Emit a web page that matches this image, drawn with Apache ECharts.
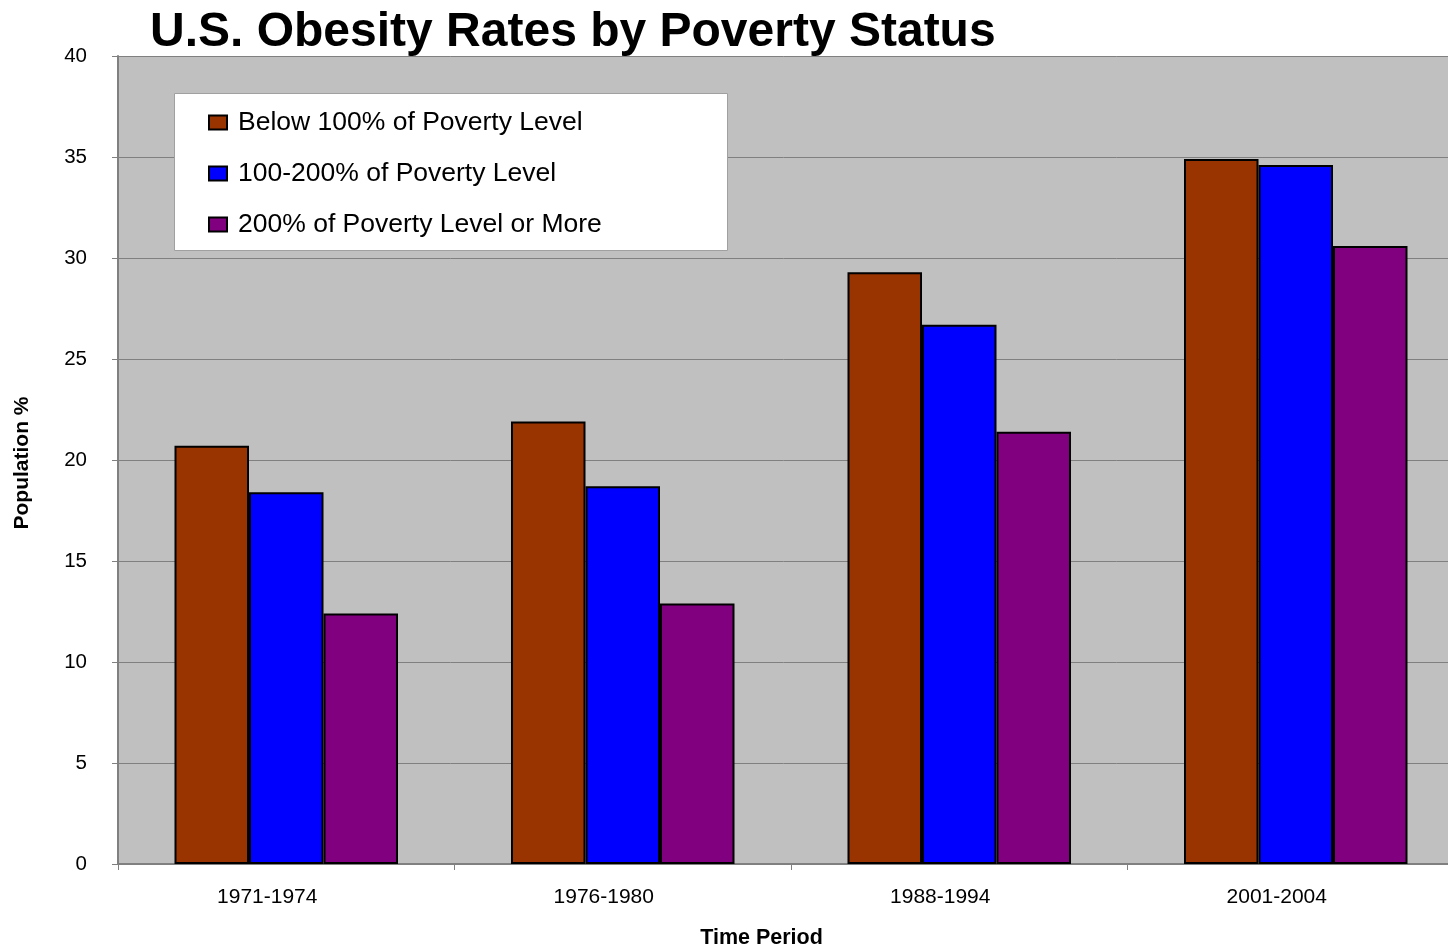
<!DOCTYPE html>
<html>
<head>
<meta charset="utf-8">
<title>U.S. Obesity Rates by Poverty Status</title>
<script src="https://cdn.jsdelivr.net/npm/echarts@6/dist/echarts.min.js"></script>
<style>
  html, body { margin: 0; padding: 0; background: #ffffff; }
  #chart { width: 1448px; height: 950px; }
</style>
</head>
<body>
<div id="chart"></div>
<script>
// Time periods on the x axis
const periods = ['1971-1974', '1976-1980', '1988-1994', '2001-2004'];

// Obesity rate (% of population) by poverty group
const belowPoverty = [20.7, 21.9, 29.3, 34.9];
const poverty100to200 = [18.4, 18.7, 26.7, 34.6];
const poverty200plus = [12.4, 12.9, 21.4, 30.6];

const seriesNames = [
  'Below 100% of Poverty Level',
  '100-200% of Poverty Level',
  '200% of Poverty Level or More'
];
const seriesColors = ['#993300', '#0000ff', '#800080'];

const FONT = '"Liberation Sans", Arial, Helvetica, sans-serif';

const chart = echarts.init(document.getElementById('chart'), null, { renderer: 'canvas' });

function barSeries(name, data, color) {
  return {
    name: name,
    type: 'bar',
    data: data,
    barWidth: 74.5,
    barGap: '0%',
    itemStyle: { color: color, borderColor: '#000000', borderWidth: 2 },
    emphasis: { disabled: true }
  };
}

chart.setOption({
  animation: false,
  backgroundColor: '#ffffff',
  title: {
    text: 'U.S. Obesity Rates by Poverty Status',
    left: 150,
    top: 9,
    padding: 0,
    textStyle: { fontFamily: FONT, fontSize: 48, fontWeight: 'bold', color: '#000000' }
  },
  grid: {
    left: 118,
    top: 56,
    right: -16,
    height: 808,
    outerBoundsMode: 'none',
    show: true,
    backgroundColor: '#c0c0c0',
    borderWidth: 0
  },
  legend: {
    orient: 'vertical',
    left: 208,
    top: 109,
    padding: 0,
    z: 10,
    itemWidth: 18,
    itemHeight: 14,
    itemGap: 24,
    icon: 'rect',
    selectedMode: false,
    data: seriesNames,
    textStyle: {
      fontFamily: FONT,
      fontSize: 26.5,
      lineHeight: 26,
      color: '#000000',
      padding: [0, 0, 0, 6]
    }
  },
  graphic: [
    {
      type: 'rect',
      z: 5,
      shape: { x: 174.5, y: 93.5, width: 553, height: 157 },
      style: { fill: '#ffffff', stroke: '#a0a0a0', lineWidth: 1 }
    },
    {
      type: 'text',
      x: 761.5,
      y: 938,
      style: {
        text: 'Time Period',
        font: 'bold 21.5px ' + FONT,
        fill: '#000000',
        align: 'center',
        verticalAlign: 'middle'
      }
    },
    {
      type: 'text',
      x: 22,
      y: 463,
      rotation: Math.PI / 2,
      style: {
        text: 'Population %',
        font: 'bold 21px ' + FONT,
        fill: '#000000',
        align: 'center',
        verticalAlign: 'middle'
      }
    }
  ],
  xAxis: {
    type: 'category',
    data: periods,
    axisLine: { show: true, lineStyle: { color: '#808080', width: 2 } },
    axisTick: { show: true, length: 6, lineStyle: { color: '#808080' } },
    axisLabel: {
      fontFamily: FONT,
      fontSize: 21,
      color: '#000000',
      margin: 23,
      padding: [0, 38, 0, 0]
    },
    splitLine: { show: false }
  },
  yAxis: {
    type: 'value',
    min: 0,
    max: 40,
    interval: 5,
    axisLine: { show: true, lineStyle: { color: '#808080', width: 2 } },
    axisTick: { show: true, length: 6, lineStyle: { color: '#808080' } },
    axisLabel: {
      fontFamily: FONT,
      fontSize: 20.5,
      color: '#000000',
      margin: 31
    },
    splitLine: { show: true, lineStyle: { color: '#808080', width: 1 } }
  },
  series: [
    barSeries(seriesNames[0], belowPoverty, seriesColors[0]),
    barSeries(seriesNames[1], poverty100to200, seriesColors[1]),
    barSeries(seriesNames[2], poverty200plus, seriesColors[2])
  ]
});
</script>
</body>
</html>
